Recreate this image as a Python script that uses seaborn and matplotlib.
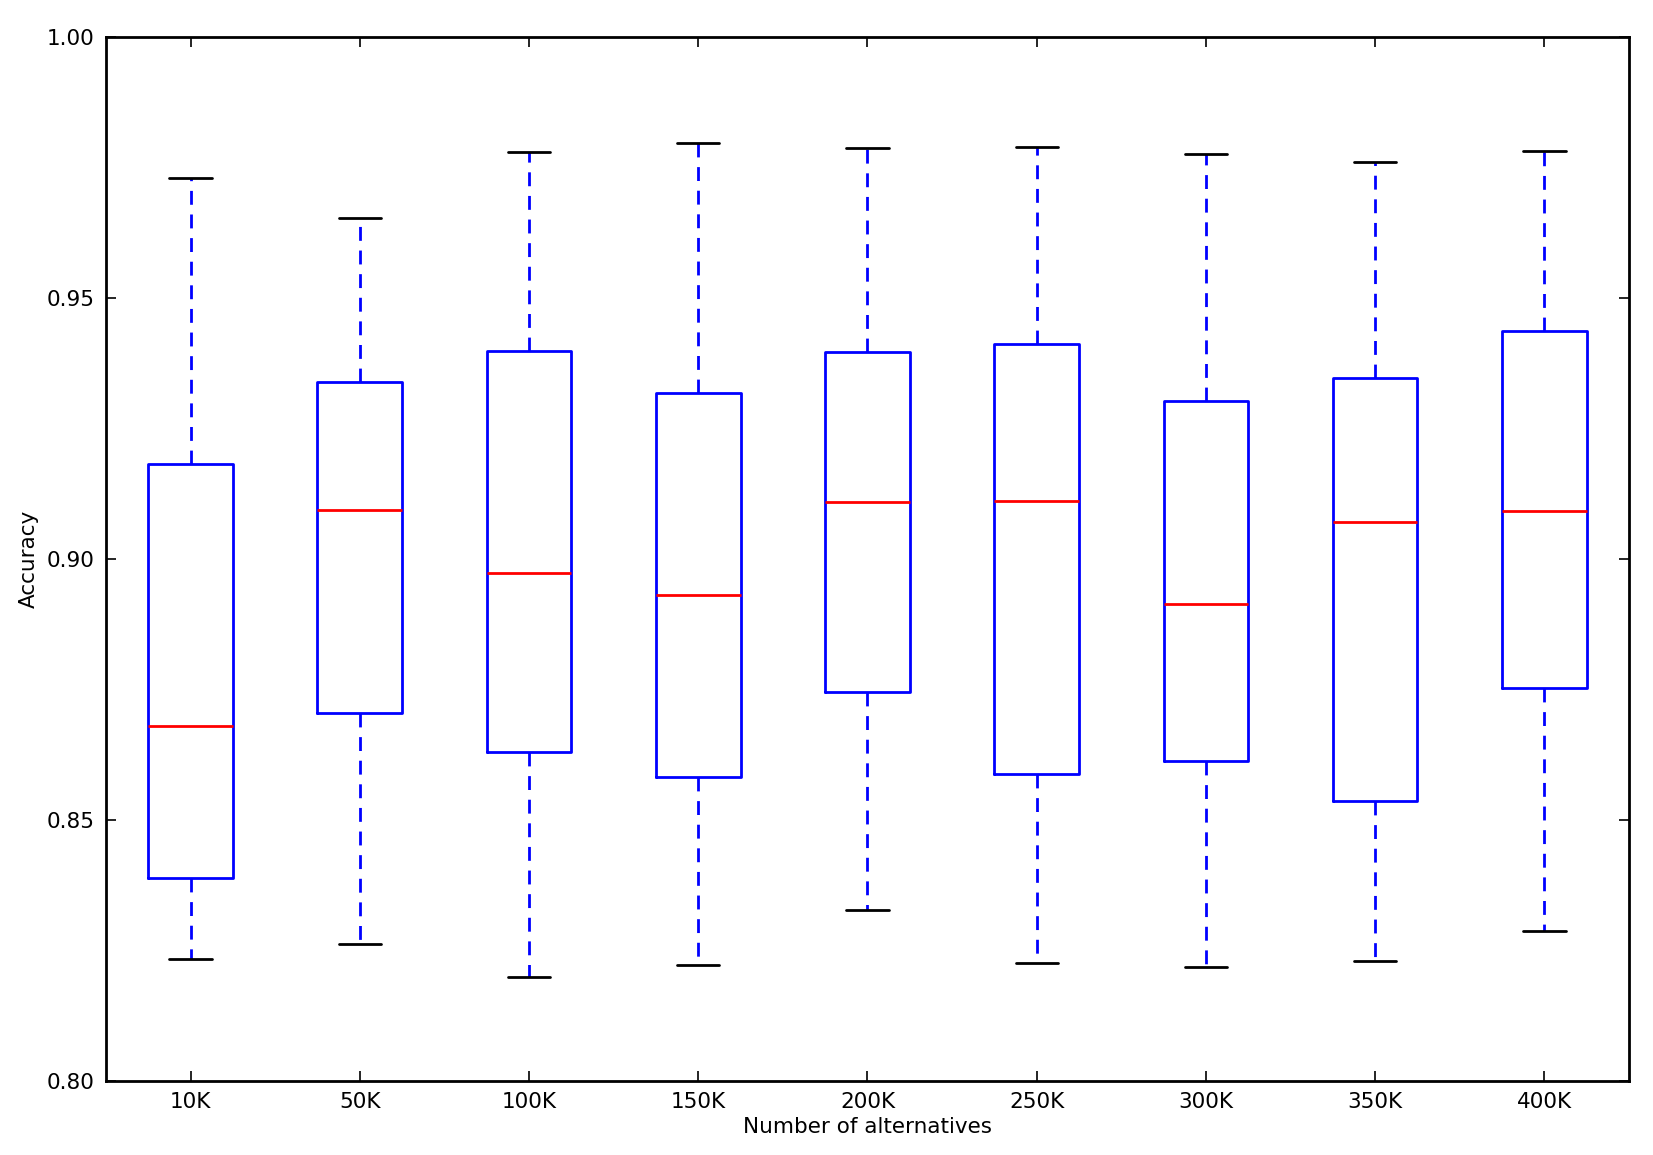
import numpy as np
import pandas as pd
import seaborn as sns
import matplotlib.pyplot as plt

# Five-number summaries
categorias = ['10K', '50K', '100K', '150K', '200K', '250K', '300K', '350K', '400K']
minimos = [0.8234, 0.8261, 0.8198, 0.8222, 0.8327, 0.8226, 0.8218, 0.8230, 0.8287]
q1 = [0.8388, 0.8705, 0.8630, 0.8582, 0.8745, 0.8588, 0.8612, 0.8535, 0.8752]
medianas = [0.8679, 0.9093, 0.8972, 0.8931, 0.9109, 0.9111, 0.8913, 0.9071, 0.9091]
q3 = [0.9182, 0.9339, 0.9398, 0.9317, 0.9396, 0.9412, 0.9303, 0.9347, 0.9436]
maximos = [0.9729, 0.9653, 0.9780, 0.9796, 0.9786, 0.9788, 0.9776, 0.9760, 0.9782]

# Long table: with five points per group the quartiles land exactly on these values
linhas = []
for i, cat in enumerate(categorias):
    for v in (minimos[i], q1[i], medianas[i], q3[i], maximos[i]):
        linhas.append({'alternativas': cat, 'accuracy': v})
df = pd.DataFrame(linhas)

sns.set_style('ticks')
plt.rcParams['font.family'] = ['DejaVu Sans']
plt.rcParams['text.color'] = 'black'
plt.rcParams['axes.labelcolor'] = 'black'
plt.rcParams['xtick.color'] = 'black'
plt.rcParams['ytick.color'] = 'black'

fig = plt.figure(figsize=(16.53, 11.55), dpi=100)
ax = fig.add_axes([0.0641, 0.0643, 0.9855 - 0.0641, 0.9682 - 0.0643])

lw = 2.0
dash = (0, (5, 3.5))
sns.boxplot(data=df, x='alternativas', y='accuracy', order=categorias,
            whis=(0, 100), width=0.5, fill=False, showfliers=False, ax=ax,
            boxprops=dict(color='blue', linewidth=lw),
            whiskerprops=dict(color='blue', linewidth=lw, linestyle=dash),
            capprops=dict(color='black', linewidth=lw),
            medianprops=dict(color='red', linewidth=lw))

n = len(categorias)
ax.set_ylim(0.80, 1.00)
ax.set_xlim(-0.5, n - 0.5)
ax.set_yticks(np.arange(0.80, 1.001, 0.05))
ax.set_yticklabels(['%.2f' % t for t in np.arange(0.80, 1.001, 0.05)])
ax.set_xlabel('Number of alternatives', fontsize=15.5, labelpad=4)
ax.set_ylabel('Accuracy', fontsize=15.5, labelpad=6)
ax.tick_params(direction='in', length=7, width=1.2, labelsize=15.5,
               top=True, right=True, pad=8, colors='black')
for s in ax.spines.values():
    s.set_visible(True)
    s.set_linewidth(2.0)
    s.set_color('black')

fig.savefig('out.png', dpi=100)
